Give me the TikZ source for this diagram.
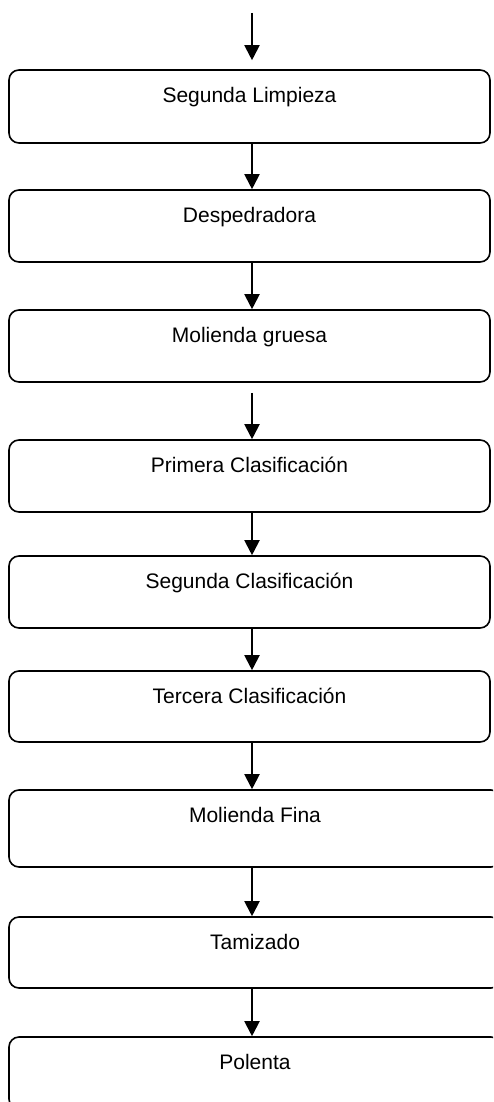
\documentclass[tikz,border=0pt]{standalone}
\usepackage{fontspec}
\setmainfont{Liberation Sans}
\usetikzlibrary{arrows.meta}
\begin{document}
\begin{tikzpicture}[x=1pt,y=-1pt,
  box/.style={draw=black, line width=1.6pt, rounded corners=10pt, inner sep=0pt, fill=white},
  lbl/.style={anchor=base, font=\fontsize{21}{25}\selectfont, inner sep=0pt},
  arr/.style={line width=2pt, -{Triangle[width=15pt,length=15pt]}}
]
\useasboundingbox (0,0) rectangle (493,1102);
\clip (0,0) rectangle (493,1102);
\coordinate (ax) at (252,0);
\coordinate (start) at (252,13);
% boxes
\node[box, minimum width=481pt, minimum height=73pt] (b1) at (249.5,106.5) {};
\node[box, minimum width=481pt, minimum height=72pt] (b2) at (249.5,226) {};
\node[box, minimum width=481pt, minimum height=72pt] (b3) at (249.5,346) {};
\node[box, minimum width=481pt, minimum height=72pt] (b4) at (249.5,476) {};
\node[box, minimum width=481pt, minimum height=72pt] (b5) at (249.5,592) {};
\node[box, minimum width=481pt, minimum height=71pt] (b6) at (249.5,706.5) {};
\node[box, minimum width=492pt, minimum height=77pt] (b7) at (255,828.5) {};
\node[box, minimum width=492pt, minimum height=71pt] (b8) at (255,952.5) {};
\node[box, minimum width=492pt, minimum height=72pt] (b9) at (255,1073) {};
% labels
\node[lbl] (t1) at ([yshift=-33pt]b1.north) {Segunda Limpieza};
\node[lbl] (t2) at ([yshift=-33pt]b2.north) {Despedradora};
\node[lbl] (t3) at ([yshift=-33pt]b3.north) {Molienda gruesa};
\node[lbl] (t4) at ([yshift=-33pt]b4.north) {Primera Clasificación};
\node[lbl] (t5) at ([yshift=-33pt]b5.north) {Segunda Clasificación};
\node[lbl] (t6) at ([yshift=-33pt]b6.north) {Tercera Clasificación};
\node[lbl] (t7) at ([yshift=-33pt]b7.north) {Molienda Fina};
\node[lbl] (t8) at ([yshift=-33pt]b8.north) {Tamizado};
\node[lbl] (t9) at ([yshift=-33pt]b9.north) {Polenta};
% connectors
\draw[arr, shorten >=9pt] (start) -- (b1.north -| ax);
\draw[arr] (b1.south -| ax) -- (b2.north -| ax);
\draw[arr] (b2.south -| ax) -- (b3.north -| ax);
\draw[arr, shorten <=10pt] (b3.south -| ax) -- (b4.north -| ax);
\draw[arr] (b4.south -| ax) -- (b5.north -| ax);
\draw[arr] (b5.south -| ax) -- (b6.north -| ax);
\draw[arr] (b6.south -| ax) -- (b7.north -| ax);
\draw[arr] (b7.south -| ax) -- (b8.north -| ax);
\draw[arr] (b8.south -| ax) -- (b9.north -| ax);
\end{tikzpicture}
\end{document}
